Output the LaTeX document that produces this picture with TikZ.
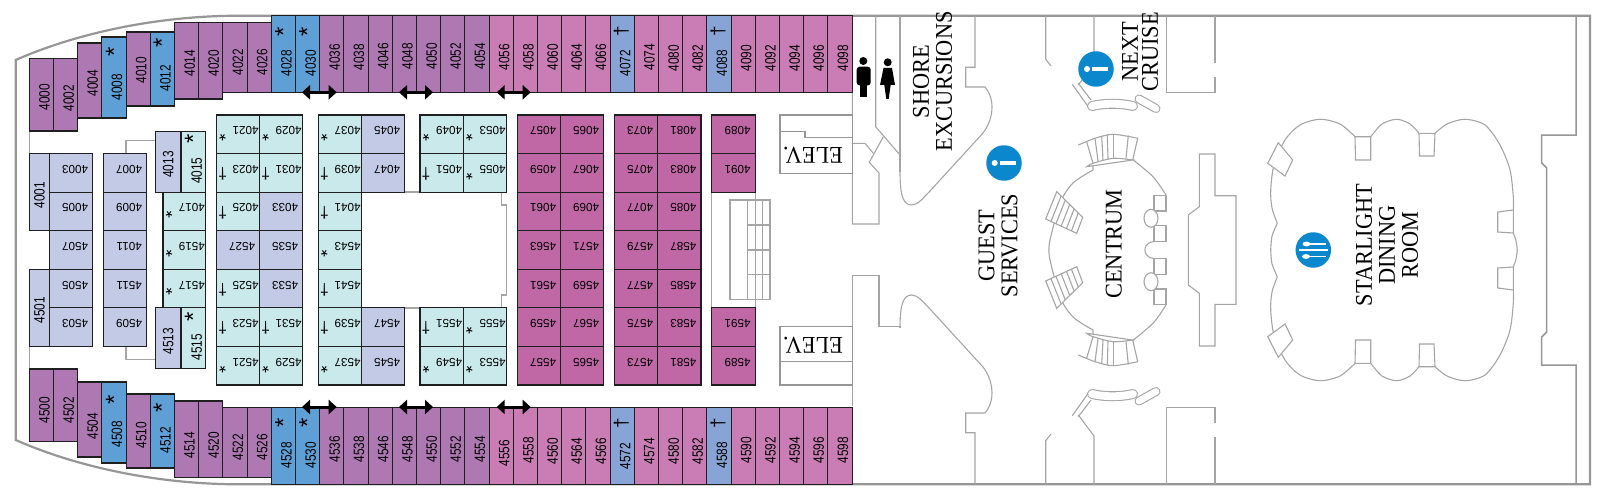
\documentclass[tikz,border=0pt]{standalone}
\usepackage{fontspec}
\usepackage{xcolor}
\usepackage{tikz}
\usetikzlibrary{arrows.meta}
\usetikzlibrary{calc}
\newfontfamily\cellfont{Liberation Sans}
\newfontfamily\rowfont[FakeStretch=0.79]{Liberation Sans}
\newfontfamily\venuefont[FakeStretch=0.93]{Liberation Serif}
\definecolor{plum}{HTML}{AE78B3}
\definecolor{sky}{HTML}{5E9FD5}
\definecolor{rose}{HTML}{CA7DB4}
\definecolor{peri}{HTML}{88A3D6}
\definecolor{lav}{HTML}{C3CAE6}
\definecolor{aqua}{HTML}{C9E9EA}
\definecolor{magent}{HTML}{C068A6}
\definecolor{wallgrey}{HTML}{A5A5A5}
\definecolor{hullgrey}{HTML}{969696}
\definecolor{infoblue}{HTML}{0B87CD}
\tikzset{
	cabin/.style={draw=black!88,line width=1.1pt},
	wall/.style={draw=wallgrey,line width=1.1pt},
	hull/.style={draw=hullgrey,line width=2.2pt},
	heavy/.style={draw=hullgrey,line width=1.5pt},
	rowlabel/.style={inner sep=0pt,rotate=90,font=\rowfont\fontsize{15}{15}\selectfont},
	celllabel/.style={inner sep=0pt,rotate=180,font=\cellfont\fontsize{11.7}{12}\selectfont},
	rowmark/.style={inner sep=0pt,anchor=base,rotate=90,font=\cellfont\fontsize{24}{24}\selectfont},
	cellmark/.style={inner sep=0pt,anchor=base,rotate=180,font=\cellfont\fontsize{18}{18}\selectfont},
	venue/.style={inner sep=0pt,rotate=90,align=center,font=\venuefont\fontsize{24}{23}\selectfont},
	elevlabel/.style={inner sep=0pt,rotate=180,font=\venuefont\fontsize{24}{23}\selectfont},
	icon/.style={circle,fill=infoblue,minimum size=35.5pt,inner sep=0pt},
	passage/.style={{Triangle[length=8pt,width=14pt]}-{Triangle[length=8pt,width=14pt]},line width=3pt,black}
}
\newcommand{\roomcell}[5]{
	\pgfmathsetmacro{\ya}{115+38.57*#4}
	\pgfmathsetmacro{\yb}{\ya+38.57}
	\draw[cabin,fill=#5] (#2,\ya) rectangle (#3,\yb);
	\node[celllabel] (c#1) at ({(#2+#3)/2+\cdx},{(\ya+\yb)/2-3.5}) {#1};
}
\newcommand{\halfplan}{
	\draw[hull] (15.7,250) -- (15.7,60) .. controls (70,36) and (150,15.7) .. (240,15.7) -- (1590,15.7) -- (1590,250);
	\draw[heavy] (1576,15.7) -- (1576,135) -- (1541.7,135) -- (1541.7,163) -- (1546.7,168) -- (1546.7,250);
	\draw[wall] (29.3,131) -- (29.3,154);
	\draw[wall] (126,154) -- (126,140.7) -- (155.7,140.7);
	\draw[wall] (404,192) -- (420,192);
	\draw[wall] (501.3,192) -- (501.3,205) -- (506.7,205) -- (506.7,250);
	\draw[wall] (711.7,192) -- (711.7,250);
	\draw[wall] (900,172) .. controls (900,195) and (903,205) .. (911.7,205) .. controls (918,205) and (923,198) .. (930,191) -- (983,133) .. controls (993,120) and (996,100) .. (985,87) -- (965.7,87) -- (965.7,67.3) -- (975,67.3) -- (975,15.7);
	\draw[wall] (1045.7,15.7) -- (1045.7,59.3) -- (1051,66);
	\draw[wall] (1094,15.7) -- (1094,64) -- (1078.3,85);
	\draw[wall] (1215,15.7) -- (1215,62.7);
	\draw[wall] (1215,76.7) -- (1215,92.3) -- (1166.7,92.3) -- (1166.7,15.7);
	\draw[wall] (1188.3,250) -- (1188.3,215) -- (1199.3,206.7) -- (1199.3,154) -- (1215,154) -- (1215,195.7) -- (1236,195.7) -- (1236,250);
	% desks
	\draw[wall] (1072.3,84.3) -- (1089.3,108.3);
	\draw[wall] (1078.3,83.3) -- (1091,100);
	\draw[wallgrey,line width=10pt,line cap=round] (1092,106) .. controls (1105,103) and (1120,103) .. (1133,106);
	\draw[white,line width=7.8pt,line cap=round] (1092,106) .. controls (1105,103) and (1120,103) .. (1133,106);
	\draw[wallgrey,line width=9pt,line cap=round] (1139,99) -- (1156,108.5);
	\draw[white,line width=6.8pt,line cap=round] (1139,99) -- (1156,108.5);
	% centrum
	\draw[wall] plot[smooth] coordinates {(1166,195) (1153,176.7) (1132,159)};
	\draw[wall] plot[smooth] coordinates {(1049,250) (1050,240) (1060,203) (1073,183) (1093,170)} -- (1093,165);
	\draw[wall,fill=white] plot[smooth] coordinates {(1078.3,145) (1095,138.3) (1113.3,134.3) (1137.7,138.3)} -- (1132.7,160) plot[smooth] coordinates {(1132.7,160) (1113.3,158.3) (1093,163.3) (1086.7,166.7)} -- cycle;
	\foreach \ox/\oy/\ix/\iy in {1086.7/142/1093/163.3,1095/138.3/1098/161,1101.7/136/1103/160,1107.3/135/1108/159,1113.3/134.3/1113.3/158.3,1128.3/135.5/1126/158.5}{
		\draw[wall] (\ox,\oy) -- (\ix,\iy);
	}
	\coordinate (fana) at (1056.7,191.7);
	\coordinate (fanb) at (1082.7,217.3);
	\coordinate (fanc) at (1076.7,233.3);
	\coordinate (fand) at (1045.7,219);
	\draw[wall,fill=white] (fana) -- (fanb) -- (fanc) -- (fand) -- cycle;
	\foreach \t in {0.17,0.33,0.5,0.67,0.83}{
		\draw[wall] ($(fana)!\t!(fanb)$) -- ($(fand)!\t!(fanc)$);
	}
	\draw[wall] (1154,195.7) rectangle (1166,211);
	\draw[wall] (1154,225.7) rectangle (1166,241.5);
	\draw[wall,fill=white] (1151,218.3) ellipse [x radius=7,y radius=9];
	\draw[wall] (1154,241.5) .. controls (1145,243) and (1145,248) .. (1145,250);
	% dining room
	\draw[wall] plot[smooth] coordinates {(1270.7,250) (1272,236) (1277.3,223.3)};
	\draw[wall] plot[smooth] coordinates {(1277.3,223.3) (1272,208) (1270.7,190) (1274,165) (1285,140) (1300,125) (1320,119.3) (1340,124) (1355,136.7)};
	\draw[wall] plot[smooth] coordinates {(1370.7,136.7) (1382,124) (1396.7,119.3) (1410,124) (1419,133.3)};
	\draw[wall] plot[smooth] coordinates {(1435,133.3) (1447,124) (1465,119.3) (1485,125) (1500,145) (1510,170) (1513.3,197) (1513.3,210)};
	\draw[wall] plot[smooth] coordinates {(1513.3,233) (1516,241) (1517.3,250)};
	\draw[wall] (1355,136.7) -- (1370.7,136.7) -- (1370.7,160) -- (1355.5,160) -- cycle;
	\draw[wall] (1419,133.3) -- (1435,133.3) -- (1434,156) -- (1419.5,156) -- cycle;
	\draw[wall] (1513.3,210) -- (1497.7,212) -- (1497.7,232) -- (1513.3,233) -- cycle;
	\draw[wall,fill=white] (1278.3,142.7) -- (1292.7,160) -- (1285,176) -- (1267.7,163.3) -- cycle;
}

\begin{document}
\begin{tikzpicture}[x=1pt,y=-1pt]
	\useasboundingbox (0,0) rectangle (1605,500);

	\halfplan
	\begin{scope}[shift={(0,500)},yscale=-1]
		\halfplan
	\end{scope}

	\draw[wall] (900,15.7) -- (900,172);
	\draw[wall] (875.7,15.7) -- (875.7,126.7) -- (900,155);
	\draw[wall] (852.3,92) -- (852.3,224) -- (879,224) -- (879,173) -- (869.3,162.3) -- (883.3,136.7);
	\draw[wall] (852.3,143.3) -- (865,143.3) -- (873.3,153.3);
	\draw[wall] (852.3,406) -- (852.3,275.7) -- (879,275.7) -- (879,326.7) -- (900,326.7) -- (900,328);

	\draw[heavy,fill=white] (852.3,115) -- (780,115) -- (780,173.3) -- (852.3,173.3) -- cycle;
	\draw[heavy] (780,131.7) -- (805,131.7) -- (805,137.3) -- (852.3,137.3);
	\draw[heavy,fill=white] (852.3,326.7) -- (780,326.7) -- (780,385) -- (852.3,385) -- cycle;
	\draw[heavy] (780,361.7) -- (852.3,361.7);

	\draw[wall] (730,200) rectangle (770,299.3);
	\foreach \sx in {747.7,762.7}{
		\draw[wall] (\sx,200) -- (\sx,299.3);
	}
	\draw[wall] (755.3,192) -- (755.3,307.7);
	\foreach \sy in {225,250,274.3}{
		\draw[wall] (747.7,\sy) -- (770,\sy);
	}

	\foreach \nm/\yt/\yb/\yl/\col [count=\ix from 0] in {
		4000/58.7/131/97/plum,4002/58.7/131/98/plum,4004/43/118/83/plum,4008/37/118/87/sky,
		4010/32/106/70/plum,4012/32/106/78/sky,4014/22.7/99/63/plum,4020/22.7/99/63/plum,
		4022/22.7/92.5/62/plum,4026/22.7/92.5/62/plum,4028/15.7/92.5/63/sky,4030/15.7/92.5/63/sky,
		4036/15.7/92.5/57/plum,4038/15.7/92.5/57/plum,4046/15.7/92.5/56/plum,4048/15.7/92.5/56/plum,
		4050/15.7/92.5/56/plum,4052/15.7/92.5/56/plum,4054/15.7/92.5/56/plum,4056/15.7/92.5/57/rose,
		4058/15.7/92.5/57/rose,4060/15.7/92.5/57/rose,4064/15.7/92.5/57/rose,4066/15.7/92.5/57/rose,
		4072/15.7/92.5/63/peri,4074/15.7/92.5/57/rose,4080/15.7/92.5/58/rose,4082/15.7/92.5/58/rose,
		4088/15.7/92.5/63/peri,4090/15.7/92.5/58/rose,4092/15.7/92.5/58/rose,4094/15.7/92.5/58/rose,
		4096/15.7/92.5/58/rose,4098/15.7/92.5/58/rose,
		4500/369/441.3/410/plum,4502/369/441.3/410/plum,4504/382/457/426/plum,4508/382/463/434/sky,
		4510/394/468/435/plum,4512/394/468/440/sky,4514/401/477.3/445/plum,4520/401/477.3/445/plum,
		4522/407.5/477.3/447/plum,4526/407.5/477.3/447/plum,4528/407.5/484.3/455/sky,4530/407.5/484.3/455/sky,
		4536/407.5/484.3/449/plum,4538/407.5/484.3/449/plum,4546/407.5/484.3/449/plum,4548/407.5/484.3/449/plum,
		4550/407.5/484.3/449/plum,4552/407.5/484.3/449/plum,4554/407.5/484.3/449/plum,4556/407.5/484.3/453/rose,
		4558/407.5/484.3/450/rose,4560/407.5/484.3/451/rose,4564/407.5/484.3/451/rose,4566/407.5/484.3/451/rose,
		4572/407.5/484.3/456/peri,4574/407.5/484.3/451/rose,4580/407.5/484.3/451/rose,4582/407.5/484.3/451/rose,
		4588/407.5/484.3/455/peri,4590/407.5/484.3/450/rose,4592/407.5/484.3/450/rose,4594/407.5/484.3/450/rose,
		4596/407.5/484.3/450/rose,4598/407.5/484.3/450/rose}{
		\pgfmathsetmacro{\xa}{29.3+24.2*mod(\ix,34)}
		\draw[cabin,fill=\col] (\xa,\yt) rectangle (\xa+24.2,\yb);
		\node[rowlabel] (r\nm) at (\xa+15.1,\yl) {\nm};
	}

	\foreach \nm/\xa/\xb/\ya/\yb/\xl/\yl/\col in {
		4001/29.3/49.7/153.7/230.3/39.5/195/lav,4501/29.3/49.7/269.3/346.4/39.5/310/lav,
		4013/155.7/181/131.3/192.3/168.3/164.5/lav,4513/155.7/181/307.7/368.3/168.3/341/lav,
		4015/181/205.7/131.3/192.3/196.7/170.7/aqua,4515/181/205.7/307.7/368.3/196.7/347/aqua}{
		\draw[cabin,fill=\col] (\xa,\ya) rectangle (\xb,\yb);
		\node[rowlabel] (r\nm) at (\xl,\yl) {\nm};
	}

	\def\cdx{4}
	\foreach \nm/\xa/\xb/\rw/\col in {
		4003/49.7/92.7/1/lav,4005/49.7/92.7/2/lav,4507/49.7/92.7/3/lav,4505/49.7/92.7/4/lav,4503/49.7/92.7/5/lav,
		4007/103.7/146.7/1/lav,4009/103.7/146.7/2/lav,4011/103.7/146.7/3/lav,4511/103.7/146.7/4/lav,4509/103.7/146.7/5/lav,
		4033/259.7/302.7/2/lav,4527/216.7/259.7/3/lav,4535/259.7/302.7/3/lav,4533/259.7/302.7/4/lav,
		4045/361.7/404.3/0/lav,4047/361.7/404.3/1/lav,4547/361.7/404.3/5/lav,4545/361.7/404.3/6/lav,
		4057/517.3/560.7/0/magent,4059/517.3/560.7/1/magent,4061/517.3/560.7/2/magent,4563/517.3/560.7/3/magent,4561/517.3/560.7/4/magent,4559/517.3/560.7/5/magent,4557/517.3/560.7/6/magent,
		4065/560.7/603.7/0/magent,4067/560.7/603.7/1/magent,4069/560.7/603.7/2/magent,4571/560.7/603.7/3/magent,4569/560.7/603.7/4/magent,4567/560.7/603.7/5/magent,4565/560.7/603.7/6/magent,
		4073/614.7/657.7/0/magent,4075/614.7/657.7/1/magent,4077/614.7/657.7/2/magent,4579/614.7/657.7/3/magent,4577/614.7/657.7/4/magent,4575/614.7/657.7/5/magent,4573/614.7/657.7/6/magent,
		4081/657.7/701/0/magent,4083/657.7/701/1/magent,4085/657.7/701/2/magent,4587/657.7/701/3/magent,4585/657.7/701/4/magent,4583/657.7/701/5/magent,4581/657.7/701/6/magent,
		4089/711.7/755.3/0/magent,4091/711.7/755.3/1/magent,4591/711.7/755.3/5/magent,4589/711.7/755.3/6/magent}{
		\roomcell{\nm}{\xa}{\xb}{\rw}{\col}
	}

	\def\cdx{7.5}
	\foreach \nm/\xa/\xb/\rw in {
		4017/163/205.7/2,4519/163/205.7/3,4517/163/205.7/4,4021/216.7/259.7/0,4029/259.7/302.7/0,4521/216.7/259.7/6,4529/259.7/302.7/6,
		4037/318.3/361.7/0,4543/318.3/361.7/3,4537/318.3/361.7/6,4049/420/463.3/0,4053/463.3/506.7/0,4055/463.3/506.7/1,
		4555/463.3/506.7/5,4549/420/463.3/6,4553/463.3/506.7/6}{
		\roomcell{\nm}{\xa}{\xb}{\rw}{aqua}
		\node[cellmark] (s\nm) at (\xa+6,\ya+24-10.4) {*};
	}
	\foreach \nm/\xa/\xb/\rw in {
		4023/216.7/259.7/1,4031/259.7/302.7/1,4025/216.7/259.7/2,4525/216.7/259.7/4,4523/216.7/259.7/5,4531/259.7/302.7/5,
		4039/318.3/361.7/1,4041/318.3/361.7/2,4541/318.3/361.7/4,4539/318.3/361.7/5,4051/420/463.3/1,4551/420/463.3/5}{
		\roomcell{\nm}{\xa}{\xb}{\rw}{aqua}
		\node[cellmark,font=\cellfont\fontsize{16}{16}\selectfont] (d\nm) at (\xa+6,\ya+19.3-4.2) {†};
	}

	\foreach \nm/\mx/\my in {4008/108.5/52,4012/156.2/43,4028/277.8/32,4030/301.8/32,4015/187.5/139,4508/108.5/400,4512/156.2/408,4528/277.8/423,4530/301.8/423,4515/187.5/317}{
		\node[rowmark] (s\nm) at (\mx+13.8,\my) {*};
	}
	\foreach \nm/\mx/\my in {4072/622.7/31,4088/719.3/31,4572/622.7/423,4588/719.3/423}{
		\node[rowmark,font=\cellfont\fontsize{19}{19}\selectfont] (d\nm) at (\mx+5,\my) {†};
	}

	\foreach \xl/\xr [count=\n] in {302/336.7,399/433,496.7/530.7}{
		\coordinate (pt\n) at (\xl,92.3);
		\coordinate (qt\n) at (\xr,92.3);
		\draw[passage] (pt\n) -- (qt\n);
		\coordinate (pb\n) at (\xl,407);
		\coordinate (qb\n) at (\xr,407);
		\draw[passage] (pb\n) -- (qb\n);
	}

	% rest rooms
	\fill[black] (863.3,61) circle [radius=4];
	\fill[black,rounded corners=3pt] (856.7,66.7) rectangle (870.7,85.5);
	\fill[black] (860,80) rectangle (867.3,96.7);
	\fill[black] (887.7,62.3) circle [radius=4];
	\fill[black] (883.5,68) -- (892,68) -- (895,85) -- (890.7,85) -- (888.7,99) -- (886.3,99) -- (884.3,85) -- (880,85) -- cycle;

	% icons
	\node[icon] (infonext) at (1096,69) {};
	\fill[white] (1087,69) circle [radius=3];
	\fill[white] (1092.3,66.7) rectangle (1108.3,71.3);
	\node[icon] (infoguest) at (1004,163) {};
	\fill[white] (994.7,163) circle [radius=3];
	\fill[white] (1000.3,160.7) rectangle (1016.3,165.3);
	\node[icon] (dining) at (1313.3,250) {};
	\draw[white,line width=1.2pt] (1305,244) -- (1326,244);
	\fill[white] (1306.5,244) ellipse [x radius=4,y radius=2.4];
	\draw[white,line width=1.6pt] (1299,250) -- (1328,250);
	\draw[white,line width=1.2pt] (1305,256.5) -- (1326,256.5);
	\fill[white] (1306,256.5) ellipse [x radius=4,y radius=2.4];

	% labels
	\node[venue] (shore) at (932.5,81.5) {SHORE\\EXCURSIONS};
	\node[venue,font=\venuefont\fontsize{24}{20}\selectfont] (nextcruise) at (1140,52) {NEXT\\CRUISE};
	\node[venue] (guest) at (998,245.5) {GUEST\\SERVICES};
	\node[venue] (centrum) at (1113.7,244) {CENTRUM};
	\node[venue] (starlight) at (1387,245) {STARLIGHT\\DINING\\ROOM};
	\node[elevlabel] (elevtop) at (813,155) {ELEV.};
	\node[elevlabel] (elevbot) at (813,345) {ELEV.};
\end{tikzpicture}
\end{document}
